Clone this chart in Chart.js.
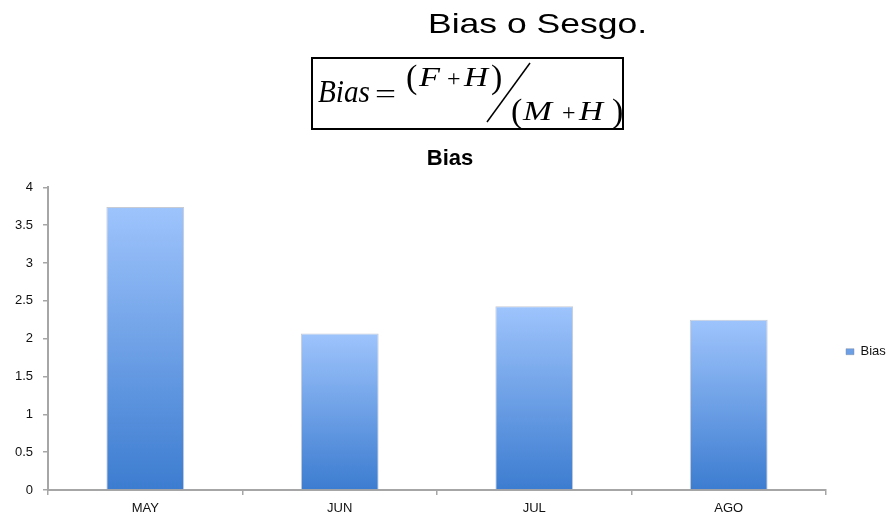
<!DOCTYPE html>
<html>
<head>
<meta charset="utf-8">
<script src="https://cdn.jsdelivr.net/npm/chart.js@4/dist/chart.umd.min.js"></script>
<style>
  html, body { margin: 0; padding: 0; background: #ffffff; }
  #wrap { position: relative; width: 889px; height: 517px; overflow: hidden; }
  #chart { position: absolute; left: 0; top: 0; }
  #head { position: absolute; left: 0; top: 0; pointer-events: none; }
</style>
</head>
<body>
<div id="wrap">
  <canvas id="chart" width="889" height="517"></canvas>
  <svg id="head" width="889" height="140" xmlns="http://www.w3.org/2000/svg">
    <text x="428" y="33" font-family="'Liberation Sans', Arial, sans-serif" font-size="28" fill="#000"
          textLength="219" lengthAdjust="spacingAndGlyphs">Bias o Sesgo.</text>
    <rect x="312" y="58" width="311" height="71" fill="none" stroke="#000" stroke-width="2"/>
    <g font-family="'Liberation Serif', 'Times New Roman', serif" fill="#000">
      <text x="318" y="102" font-size="31" font-style="italic" textLength="52" lengthAdjust="spacingAndGlyphs">Bias</text>
      <text x="375" y="103" font-size="28" textLength="21" lengthAdjust="spacingAndGlyphs">=</text>
      <!-- numerator -->
      <text x="406" y="88" font-size="34">(</text>
      <text x="419" y="86" font-size="27" font-style="italic" textLength="21" lengthAdjust="spacingAndGlyphs">F</text>
      <text x="447" y="86" font-size="24">+</text>
      <text x="464" y="86" font-size="27" font-style="italic" textLength="24" lengthAdjust="spacingAndGlyphs">H</text>
      <text x="491" y="88" font-size="34">)</text>
      <!-- denominator -->
      <text x="511" y="122" font-size="34">(</text>
      <text x="523" y="119.5" font-size="27" font-style="italic" textLength="29" lengthAdjust="spacingAndGlyphs">M</text>
      <text x="562" y="119.5" font-size="24">+</text>
      <text x="579" y="119.5" font-size="27" font-style="italic" textLength="24" lengthAdjust="spacingAndGlyphs">H</text>
      <text x="612" y="122" font-size="34">)</text>
    </g>
    <line x1="487" y1="122" x2="530" y2="63" stroke="#000" stroke-width="1.5"/>
  </svg>
</div>
<script>
// Monthly bias values
const months = ['MAY', 'JUN', 'JUL', 'AGO'];
const biasValues = [3.74, 2.07, 2.43, 2.25];
const seriesName = 'Bias';
const chartTitle = 'Bias';
const yTickLabels = ['0', '0.5', '1', '1.5', '2', '2.5', '3', '3.5', '4'];
const yMin = 0;
const yMax = 4;
const yStep = 0.5;

Chart.defaults.font.family = "'Liberation Sans', Arial, sans-serif";

const axisGray = '#a6a6a6';
const textColor = '#111111';

// Each bar fades from light blue at its top to deeper blue at its base
function barFill(c) {
  const chart = c.chart;
  const y = chart.scales && chart.scales.y;
  if (!y || c.raw == null || !isFinite(y.getPixelForValue(c.raw))) return 'rgb(120,166,236)';
  const top = y.getPixelForValue(c.raw);
  const base = y.getPixelForValue(0);
  const g = chart.ctx.createLinearGradient(0, top, 0, base);
  g.addColorStop(0, 'rgb(158,196,252)');
  g.addColorStop(1, 'rgb(60,124,208)');
  return g;
}

// Lower the legend so it sits a little below the plot's mid-height
const legendNudge = {
  id: 'legendNudge',
  afterLayout(chart) {
    const l = chart.legend;
    if (l) { l.top += 13; l.bottom += 13; }
  }
};

new Chart(document.getElementById('chart'), {
  type: 'bar',
  data: {
    labels: months,
    datasets: [{
      label: seriesName,
      data: biasValues,
      backgroundColor: barFill,
      borderColor: 'rgba(130,140,160,0.45)',
      borderWidth: 1,
      categoryPercentage: 1,
      barPercentage: 0.4
    }]
  },
  options: {
    responsive: false,
    animation: false,
    devicePixelRatio: 1,
    layout: { padding: { top: 146, left: 11, right: 0, bottom: 0 } },
    plugins: {
      title: {
        display: true,
        text: chartTitle,
        color: '#000',
        font: { size: 22, weight: 'bold' },
        padding: { top: 0, bottom: 15 }
      },
      legend: {
        position: 'right',
        fullSize: false,
        maxWidth: 63,
        labels: {
          boxWidth: 8,
          boxHeight: 6,
          padding: 20,
          color: textColor,
          font: { size: 13 }
        }
      },
      tooltip: { enabled: false }
    },
    scales: {
      x: {
        grid: { offset: true, drawOnChartArea: false, tickLength: 5, color: axisGray, lineWidth: 1.5 },
        border: { color: axisGray, width: 2 },
        ticks: { padding: 6, color: textColor, font: { size: 13 } },
        afterFit(s) { s.height = 27; }
      },
      y: {
        min: yMin,
        max: yMax,
        grid: { drawOnChartArea: false, tickLength: 5, color: axisGray, lineWidth: 1.5 },
        border: { color: axisGray, width: 2 },
        ticks: {
          stepSize: yStep,
          padding: 10,
          color: textColor,
          font: { size: 13 },
          callback: (v, i) => yTickLabels[i]
        },
        afterFit(s) { s.width = 37; }
      }
    }
  },
  plugins: [legendNudge]
});
</script>
</body>
</html>
